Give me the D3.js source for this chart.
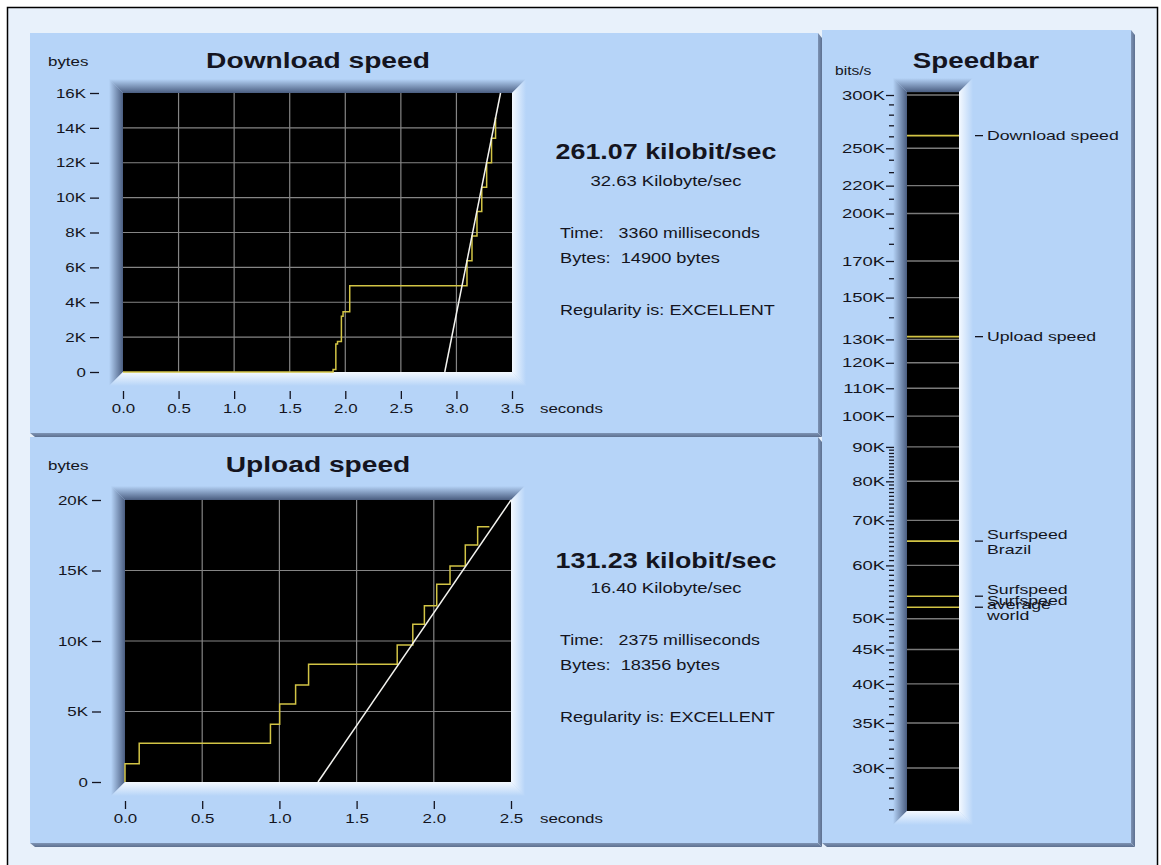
<!DOCTYPE html>
<html>
<head>
<meta charset="utf-8">
<script src="https://cdnjs.cloudflare.com/ajax/libs/d3/7.8.5/d3.min.js"></script>
<style>
  body { margin: 0; background: #ffffff; }
  text { white-space: pre; }
</style>
</head>
<body>
<script>
var w = 1161;
var h = 865;

// Download test: time (s) where the cumulative total (K bytes) steps up
var dlTime  = [0, 1.89, 1.915, 1.93, 1.965, 1.98, 2.04, 3.095, 3.14, 3.185, 3.228, 3.272, 3.316, 3.352, 3.36];
var dlBytes = [0, 0.15, 1.6, 1.75, 3.2, 3.45, 4.95, 6.38, 7.8, 9.2, 10.6, 12.0, 13.4, 14.55, 14.55];
var dlFit   = [[2.895, 0], [3.397, 16]];   // white regression line
var dlXTicks = [0, 0.5, 1, 1.5, 2, 2.5, 3, 3.5];
var dlYTicks = [0, 2, 4, 6, 8, 10, 12, 14, 16];

// Upload test
var ulTime  = [0, 0, 0.092, 0.942, 1.002, 1.105, 1.189, 1.763, 1.864, 1.939, 2.019, 2.105, 2.204, 2.284, 2.36];
var ulBytes = [0, 1.3, 2.74, 4.09, 5.53, 6.88, 8.35, 9.72, 11.18, 12.5, 14.02, 15.32, 16.8, 18.1, 18.1];
var ulFit   = [[1.25, 0], [2.5, 20]];
var ulXTicks = [0, 0.5, 1, 1.5, 2, 2.5];
var ulYTicks = [0, 5, 10, 15, 20];

// Result texts
var dlStats = ["261.07 kilobit/sec", "32.63 Kilobyte/sec", "Time:   3360 milliseconds", "Bytes:  14900 bytes", "Regularity is: EXCELLENT"];
var ulStats = ["131.23 kilobit/sec", "16.40 Kilobyte/sec", "Time:   2375 milliseconds", "Bytes:  18356 bytes", "Regularity is: EXCELLENT"];

// Speedbar (bits/s, in K)
var sbMajor = [300, 250, 220, 200, 170, 150, 130, 120, 110, 100, 90, 80, 70, 60, 50, 45, 40, 35, 30];
var sbMinor = [290, 280, 270, 260, 240, 230, 210, 190, 180, 160, 140]
  .concat(d3.range(26, 90).filter(function(d) { return sbMajor.indexOf(d) < 0; }));
var sbRange = [25.9, 303];
var sbNames  = [["Download speed"], ["Upload speed"], ["Surfspeed", "Brazil"], ["Surfspeed", "average"], ["Surfspeed", "world"]];
var sbValues = [261.07, 131.23, 65.2, 54.0, 52.0];

var font = "'Liberation Sans', Arial, sans-serif";
var panelCol = "#b6d4f8", darkCol = "#4a5d80", lightCol = "#f4f9ff", bgCol = "#e8f1fb";
var yellow = "#d2c445", ink = "#141420";

var svg = d3.select("body").append("svg")
  .attr("width", w)
  .attr("height", h);

var defs = svg.append("defs");
function grad(id, x2, y2, c1, c2) {
  var g = defs.append("linearGradient").attr("id", id)
    .attr("x1", 0).attr("y1", 0).attr("x2", x2).attr("y2", y2);
  g.append("stop").attr("offset", "0%").attr("stop-color", c1);
  g.append("stop").attr("offset", "100%").attr("stop-color", c2);
}
grad("gTop", 0, 1, panelCol, darkCol);
grad("gLeft", 1, 0, panelCol, darkCol);
grad("gBottom", 0, 1, lightCol, panelCol);
grad("gRight", 1, 0, lightCol, panelCol);
grad("gShadowR", 1, 0, "#7d93b4", "#5d7090");
grad("gShadowB", 0, 1, "#7d93b4", "#5d7090");

// background + frame
svg.append("rect")
  .attr("x", 7.5).attr("y", 7.5)
  .attr("width", 1150).attr("height", 870)
  .attr("fill", bgCol)
  .attr("stroke", "#000").attr("stroke-width", 1.5);

function panel(x, y, pw, ph) {
  svg.append("polygon")
    .attr("points", [[x + pw, y], [x + pw + 4, y + 5], [x + pw + 4, y + ph + 4], [x + pw, y + ph]].join(" "))
    .attr("fill", "url(#gShadowR)");
  svg.append("polygon")
    .attr("points", [[x, y + ph], [x + pw, y + ph], [x + pw + 4, y + ph + 4], [x + 5, y + ph + 4]].join(" "))
    .attr("fill", "url(#gShadowB)");
  svg.append("rect")
    .attr("x", x).attr("y", y)
    .attr("width", pw).attr("height", ph)
    .attr("fill", panelCol);
}
panel(30, 33, 788, 400);
panel(30, 437, 788, 406);
panel(822, 30, 309, 813);

// sunken frame around a black plot area
function bevel(x0, y0, x1, y1, b) {
  svg.append("polygon").attr("points", [[x0 - b, y0 - b], [x1 + b, y0 - b], [x1, y0], [x0, y0]].join(" ")).attr("fill", "url(#gTop)");
  svg.append("polygon").attr("points", [[x0 - b, y0 - b], [x0, y0], [x0, y1], [x0 - b, y1 + b]].join(" ")).attr("fill", "url(#gLeft)");
  svg.append("polygon").attr("points", [[x0 - b, y1 + b], [x0, y1], [x1, y1], [x1 + b, y1 + b]].join(" ")).attr("fill", "url(#gBottom)");
  svg.append("polygon").attr("points", [[x1, y0], [x1 + b, y0 - b], [x1 + b, y1 + b], [x1, y1]].join(" ")).attr("fill", "url(#gRight)");
  svg.append("rect")
    .attr("x", x0).attr("y", y0)
    .attr("width", x1 - x0).attr("height", y1 - y0)
    .attr("fill", "#000");
}

function txt(x, y, s, size, weight, anchor, k) {
  return svg.append("text")
    .text(s)
    .attr("x", x)
    .attr("y", y)
    .attr("font-family", font)
    .attr("font-size", size + "px")
    .attr("font-weight", weight || "normal")
    .attr("text-anchor", anchor || "start")
    .attr("fill", ink)
    .attr("data-k", k || 1.3);
}

function chart(cfg) {
  var x = d3.scaleLinear().domain(cfg.xDomain).range(cfg.xRange);
  var y = d3.scaleLinear().domain(cfg.yDomain).range(cfg.yRange);
  var x0 = cfg.xRange[0], x1 = cfg.xRange[1], yb = cfg.yRange[0], yt = cfg.yRange[1];

  bevel(x0, yt, x1, yb, 14);

  // grid
  svg.append("g").selectAll("line")
    .data(cfg.xTicks.slice(1, -1))
    .enter().append("line")
    .attr("x1", function(d) { return x(d); })
    .attr("x2", function(d) { return x(d); })
    .attr("y1", yt).attr("y2", yb)
    .attr("stroke", "#858585").attr("stroke-width", 1.2);
  svg.append("g").selectAll("line")
    .data(cfg.yTicks.slice(1, -1))
    .enter().append("line")
    .attr("y1", function(d) { return y(d); })
    .attr("y2", function(d) { return y(d); })
    .attr("x1", x0).attr("x2", x1)
    .attr("stroke", "#858585").attr("stroke-width", 1.2);

  // measured steps
  var step = d3.line()
    .x(function(d) { return x(d[0]); })
    .y(function(d) { return y(d[1]); })
    .curve(d3.curveStepAfter);
  svg.append("path")
    .datum(d3.zip(cfg.time, cfg.bytes))
    .attr("d", step)
    .attr("fill", "none")
    .attr("stroke", yellow)
    .attr("stroke-width", 1.5);

  // fitted speed
  svg.append("path")
    .datum(cfg.fit)
    .attr("d", d3.line().x(function(d) { return x(d[0]); }).y(function(d) { return y(d[1]); }))
    .attr("fill", "none")
    .attr("stroke", "#f4f4f0")
    .attr("stroke-width", 1.5);

  // axes
  var ya = svg.append("g")
    .attr("transform", "translate(" + (x0 - 24) + ",0)")
    .call(d3.axisLeft(y).tickValues(cfg.yTicks).tickSize(9).tickPadding(4)
      .tickFormat(function(d) { return d ? d + "K" : "0"; }));
  var xa = svg.append("g")
    .attr("transform", "translate(0," + (yb + 19) + ")")
    .call(d3.axisBottom(x).tickValues(cfg.xTicks).tickSize(8).tickPadding(5)
      .tickFormat(d3.format(".1f")));
  [ya, xa].forEach(function(a) {
    a.select(".domain").remove();
    a.attr("font-family", font).attr("font-size", 13);
    a.selectAll("line").attr("stroke", ink).attr("stroke-width", 1.3);
    a.selectAll("text").attr("fill", ink).attr("data-k", 1.3);
  });

  txt(540, yb + 41, "seconds", 13);
  txt(48, cfg.top + 33, "bytes", 13);
  txt(318, cfg.top + 35, cfg.title, 22, "bold", "middle", 1.28);

  // result texts
  var ty = cfg.textY;
  txt(666, ty[0], cfg.stats[0], 22, "bold", "middle", 1.22);
  txt(666, ty[1], cfg.stats[1], 14, "normal", "middle", 1.32);
  txt(560, ty[2], cfg.stats[2], 14, "normal", "start", 1.27);
  txt(560, ty[3], cfg.stats[3], 14, "normal", "start", 1.3);
  txt(560, ty[4], cfg.stats[4], 14, "normal", "start", 1.29);
}

chart({
  title: "Download speed", top: 33,
  time: dlTime, bytes: dlBytes, fit: dlFit,
  xDomain: [0, 3.5], xRange: [123, 512],
  yDomain: [0, 16], yRange: [372, 93],
  xTicks: dlXTicks, yTicks: dlYTicks,
  stats: dlStats, textY: [159, 186, 238, 263, 315]
});

chart({
  title: "Upload speed", top: 437,
  time: ulTime, bytes: ulBytes, fit: ulFit,
  xDomain: [0, 2.5], xRange: [125, 511],
  yDomain: [0, 20], yRange: [782, 500],
  xTicks: ulXTicks, yTicks: ulYTicks,
  stats: ulStats, textY: [568, 593, 645, 670, 722]
});

// Speedbar
var sbY = d3.scaleLog().domain([30, 300]).range([768, 95]);
var bx0 = 907, bx1 = 959;
bevel(bx0, sbY(sbRange[1]), bx1, sbY(sbRange[0]), 14);

svg.append("g").selectAll("line")
  .data(sbMajor)
  .enter().append("line")
  .attr("x1", bx0).attr("x2", bx1)
  .attr("y1", function(d) { return sbY(d); })
  .attr("y2", function(d) { return sbY(d); })
  .attr("stroke", "#7a7a7a").attr("stroke-width", 1.4);

svg.append("g").selectAll("line")
  .data(sbMinor)
  .enter().append("line")
  .attr("x1", 889).attr("x2", 894)
  .attr("y1", function(d) { return sbY(d); })
  .attr("y2", function(d) { return sbY(d); })
  .attr("stroke", ink).attr("stroke-width", 1.3);

var sa = svg.append("g")
  .attr("transform", "translate(894,0)")
  .call(d3.axisLeft(sbY).tickValues(sbMajor).tickSize(8).tickPadding(1)
    .tickFormat(function(d) { return d + "K"; }));
sa.select(".domain").remove();
sa.attr("font-family", font).attr("font-size", 13);
sa.selectAll("line").attr("stroke", ink).attr("stroke-width", 1.3);
sa.selectAll("text").attr("fill", ink).attr("data-k", 1.42);

sbValues.forEach(function(v, i) {
  var yy = sbY(v);
  svg.append("line")
    .attr("x1", bx0).attr("x2", bx1)
    .attr("y1", yy).attr("y2", yy)
    .attr("stroke", yellow).attr("stroke-width", 1.6);
  svg.append("line")
    .attr("x1", 975).attr("x2", 983)
    .attr("y1", yy).attr("y2", yy)
    .attr("stroke", ink).attr("stroke-width", 1.3);
  // two-line labels sit astride their line, like the original (the world/average pair overlaps there too)
  var lines = sbNames[i];
  lines.forEach(function(s, j) {
    var off = lines.length == 1 ? 4.5 : (j == 0 ? -2.5 : 12.5);
    txt(987, yy + off, s, 13, "normal", "start", 1.36);
  });
});

txt(976, 68, "Speedbar", 22, "bold", "middle", 1.26);
txt(835, 75, "bits/s", 12, "normal", "start", 1.3);

// widen the lettering like the original applet rendering
svg.selectAll("text").each(function() {
  var k = +this.getAttribute("data-k") || 1.3;
  var len = this.getComputedTextLength();
  d3.select(this).attr("textLength", len * k).attr("lengthAdjust", "spacingAndGlyphs");
});
</script>
</body>
</html>
